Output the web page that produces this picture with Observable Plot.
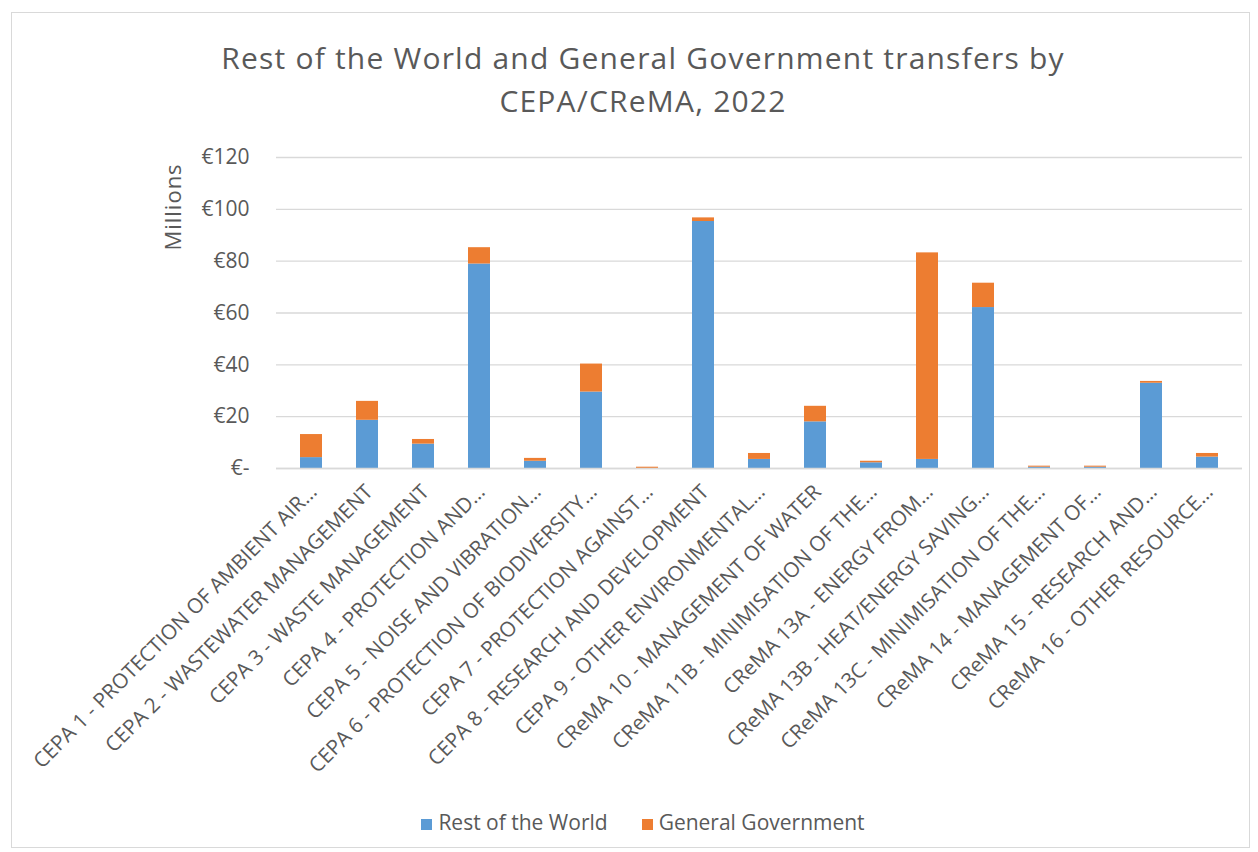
<!DOCTYPE html>
<html>
<head>
<meta charset="utf-8">
<script src="https://cdn.jsdelivr.net/npm/d3@7"></script>
<script src="https://cdn.jsdelivr.net/npm/@observablehq/plot@0.6"></script>
<style>
  html, body { margin: 0; padding: 0; background: #fff; }
  body { width: 1258px; height: 852px; position: relative; overflow: hidden; font-family: "Open Sans", Lato, sans-serif; color: #595959; }
  #frame { position: absolute; left: 11px; top: 12px; width: 1239px; height: 836px; border: 1px solid #d9d9d9; box-sizing: border-box; }
  #title { position: absolute; left: 0; width: 1286px; top: 36px; text-align: center; font-size: 30px; line-height: 43px; letter-spacing: 1.2px; color: #595959; }
  #ylabel { position: absolute; left: 172px; top: 207px; transform: translate(-50%, -50%) rotate(-90deg); font-size: 22px; letter-spacing: 1px; color: #595959; white-space: nowrap; }
  #chart { position: absolute; left: 0; top: 140px; }
  #legend { position: absolute; left: 0; width: 1286px; top: 808px; text-align: center; font-size: 21px; color: #595959; }
  #legend span.item { display: inline-block; margin: 0 17px; }
  #legend span.sw { display: inline-block; width: 11px; height: 11px; margin-right: 6px; vertical-align: 0px; }
</style>
</head>
<body>
<div id="frame"></div>
<div id="title">Rest of the World and General Government transfers by<br>CEPA/CReMA, 2022</div>
<div id="ylabel">Millions</div>
<div id="chart"></div>
<div id="legend"></div>
<script>
const categories = [
  "CEPA 1 - PROTECTION OF AMBIENT AIR…",
  "CEPA 2 - WASTEWATER MANAGEMENT",
  "CEPA 3 - WASTE MANAGEMENT",
  "CEPA 4 - PROTECTION AND…",
  "CEPA 5 - NOISE AND VIBRATION…",
  "CEPA 6 - PROTECTION OF BIODIVERSITY…",
  "CEPA 7 - PROTECTION AGAINST…",
  "CEPA 8 - RESEARCH AND DEVELOPMENT",
  "CEPA 9 - OTHER ENVIRONMENTAL…",
  "CReMA 10 - MANAGEMENT OF WATER",
  "CReMA 11B - MINIMISATION OF THE…",
  "CReMA 13A - ENERGY FROM…",
  "CReMA 13B - HEAT/ENERGY SAVING…",
  "CReMA 13C - MINIMISATION OF THE…",
  "CReMA 14 - MANAGEMENT OF…",
  "CReMA 15 - RESEARCH AND…",
  "CReMA 16 - OTHER RESOURCE…"
];
const seriesNames = ["Rest of the World", "General Government"];
const seriesColors = ["#5B9BD5", "#ED7D31"];
const restOfWorld = [4.2, 18.6, 9.4, 78.9, 2.8, 29.5, 0.0, 95.3, 3.5, 18.0, 2.2, 3.5, 62.1, 0.5, 0.5, 32.9, 4.4];
const generalGovernment = [8.9, 7.3, 1.8, 6.3, 1.1, 10.8, 0.5, 1.4, 2.3, 6.0, 0.6, 79.7, 9.4, 0.4, 0.4, 0.7, 1.4];
const yTicks = [0, 20, 40, 60, 80, 100, 120];

const data = [];
categories.forEach((c, i) => {
  data.push({category: c, series: seriesNames[0], value: restOfWorld[i]});
  data.push({category: c, series: seriesNames[1], value: generalGovernment[i]});
});

const chart = Plot.plot({
  width: 1258,
  height: 660,
  marginLeft: 276,
  marginRight: 16,
  marginTop: 17,
  marginBottom: 332,
  style: {fontFamily: "'Open Sans', Lato, sans-serif", color: "#595959", background: "transparent", overflow: "visible"},
  x: {domain: categories, paddingInner: 0.6, paddingOuter: 0.3, label: null},
  y: {domain: [0, 120], label: null},
  color: {domain: seriesNames, range: seriesColors},
  marks: [
    Plot.gridY(yTicks, {stroke: "#d9d9d9", strokeOpacity: 1, strokeWidth: 1.4}),
    Plot.barY(data, {x: "category", y: "value", fill: "series"}),
    Plot.ruleY([0], {stroke: "#d9d9d9", strokeWidth: 1.4}),
    Plot.axisY(yTicks, {
      tickSize: 0, tickPadding: 27, fontSize: 21, fill: "#595959",
      tickFormat: d => d === 0 ? "€-" : "€" + d, label: null
    }),
    Plot.axisX({
      tickSize: 0, tickRotate: -45, fontSize: 20.7, fill: "#595959",
      tickPadding: 10, dx: 2, dy: 10, label: null
    })
  ]
});
document.getElementById("chart").appendChild(chart);

const legend = document.getElementById("legend");
seriesNames.forEach((s, i) => {
  const item = document.createElement("span");
  item.className = "item";
  const sw = document.createElement("span");
  sw.className = "sw";
  sw.style.background = seriesColors[i];
  item.appendChild(sw);
  item.appendChild(document.createTextNode(s));
  legend.appendChild(item);
});
</script>
</body>
</html>
